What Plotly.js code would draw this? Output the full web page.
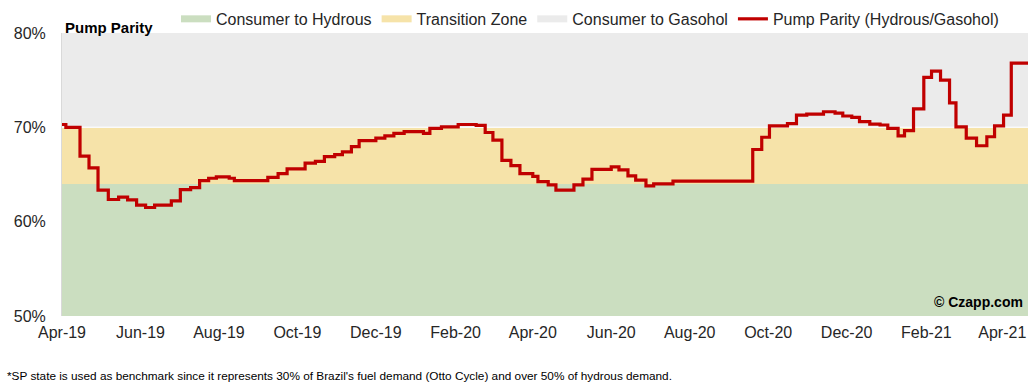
<!DOCTYPE html>
<html>
<head>
<meta charset="utf-8">
<script src="https://cdn.plot.ly/plotly-3.0.1.min.js"></script>
<style>html,body{margin:0;padding:0;background:#fff;}#chart{width:1036px;height:387px;}</style>
</head>
<body>
<div id="chart"></div>
<script>
// Pump parity (hydrous / gasohol), weekly observations
var dates = ['2019-04-01','2019-04-04','2019-04-15','2019-04-22','2019-04-29','2019-05-07','2019-05-15','2019-05-22','2019-05-29','2019-06-05','2019-06-12','2019-06-25','2019-07-02','2019-07-10','2019-07-17','2019-07-24','2019-07-30','2019-08-09','2019-08-13','2019-09-08','2019-09-16','2019-09-23','2019-10-07','2019-10-15','2019-10-22','2019-10-30','2019-11-05','2019-11-12','2019-11-18','2019-12-01','2019-12-08','2019-12-15','2019-12-23','2020-01-07','2020-01-12','2020-01-21','2020-02-03','2020-02-17','2020-02-24','2020-03-01','2020-03-08','2020-03-15','2020-03-22','2020-04-01','2020-04-05','2020-04-13','2020-04-19','2020-05-03','2020-05-10','2020-05-17','2020-06-01','2020-06-07','2020-06-14','2020-06-20','2020-06-28','2020-07-04','2020-07-19','2020-09-19','2020-09-26','2020-10-02','2020-10-16','2020-10-23','2020-10-31','2020-11-13','2020-11-22','2020-11-28','2020-12-05','2020-12-11','2020-12-19','2020-12-27','2021-01-02','2021-01-10','2021-01-15','2021-01-22','2021-01-30','2021-02-05','2021-02-12','2021-02-19','2021-02-24','2021-03-04','2021-03-12','2021-03-20','2021-03-26','2021-04-02','2021-04-08','2021-04-21'];
var parity = [70.3,70.0,66.95,65.7,63.35,62.35,62.6,62.3,61.75,61.5,61.75,62.2,63.4,63.6,64.35,64.6,64.75,64.6,64.35,64.7,65.1,65.6,66.2,66.4,66.9,67.1,67.4,67.95,68.6,68.85,69.1,69.35,69.55,69.35,69.9,70.05,70.3,70.2,69.45,68.65,66.5,65.95,65.1,64.8,64.25,63.9,63.35,63.9,64.5,65.55,65.8,65.5,64.85,64.4,63.8,64.0,64.3,67.65,68.95,70.15,70.4,71.3,71.4,71.65,71.5,71.2,71.05,70.6,70.35,70.25,69.9,69.1,69.65,71.95,75.3,75.95,75.0,72.6,70.05,68.85,68.05,69.0,70.15,71.3,76.8,76.8];

// Zone bands (percent)
var zoneNames = ['Consumer to Hydrous','Transition Zone','Consumer to Gasohol'];
var zoneLow   = [50, 64, 70];
var zoneHigh  = [64, 70, 80];
var zoneColors = ['#cbdec0','#f6e3a9','#ebebeb'];

var yTicks = [50, 60, 70, 80];
var yTickLabels = ['50%', '60%', '70%', '80%'];
var xStart = '2019-04-01', xEnd = '2021-04-21';

var traces = [];
for (var i = 0; i < zoneNames.length; i++) {
  traces.push({x:[null], y:[null], type:'scatter', mode:'lines', name:zoneNames[i],
    line:{color:zoneColors[i], width:7}, hoverinfo:'skip'});
}
traces.push({x:dates, y:parity, type:'scatter', mode:'lines', name:'Pump Parity (Hydrous/Gasohol)',
  line:{color:'#c00000', width:3.2, shape:'hv'}});

var shapes = [];
for (var j = 0; j < zoneNames.length; j++) {
  shapes.push({type:'rect', xref:'paper', yref:'y', x0:0, x1:1, y0:zoneLow[j], y1:zoneHigh[j],
    fillcolor:zoneColors[j], line:{width:0}, layer:'below'});
}
shapes.push({type:'line', xref:'paper', yref:'y', x0:0, x1:1, y0:70, y1:70, line:{color:'#fafafa', width:1.5}, layer:'below'});

var layout = {
  width:1036, height:387,
  margin:{l:62, r:8, t:33, b:71, autoexpand:false},
  paper_bgcolor:'#ffffff', plot_bgcolor:'#ffffff',
  font:{family:'Liberation Sans, Arial, sans-serif', size:16, color:'#262626'},
  showlegend:true,
  legend:{orientation:'h', x:0.118, xanchor:'left', yref:'container', y:0.995, yanchor:'top',
    font:{size:16, color:'#262626'}, bgcolor:'rgba(0,0,0,0)', itemwidth:30, traceorder:'normal'},
  xaxis:{type:'date', range:[xStart, xEnd], tick0:'2019-04-01', dtick:'M2', tickformat:'%b-%y',
    showgrid:false, zeroline:false, showline:false, ticks:'', ticklabelstandoff:5,
    tickfont:{size:16, color:'#262626'}},
  yaxis:{range:[50, 80], tickmode:'array', tickvals:yTicks, ticktext:yTickLabels, showgrid:false, zeroline:false,
    showline:true, linecolor:'#d9d9d9', linewidth:1, ticks:'', ticklabelstandoff:12,
    tickfont:{size:16, color:'#262626'}},
  shapes:shapes,
  annotations:[
    {text:'<b>Pump Parity</b>', xref:'paper', yref:'paper', x:0, y:1, xanchor:'left', yanchor:'bottom',
      xshift:1, yshift:-5, showarrow:false, font:{size:15, color:'#000000'}},
    {text:'<b>© Czapp.com</b>', xref:'paper', yref:'paper', x:1, y:0, xanchor:'right', yanchor:'bottom',
      xshift:-3, yshift:4, showarrow:false, font:{size:14, color:'#000000'}},
    {text:"*SP state is used as benchmark since it represents 30% of Brazil's fuel demand (Otto Cycle) and over 50% of hydrous demand.",
      xref:'paper', yref:'paper', x:-0.059, y:-0.212, xanchor:'left', yanchor:'middle',
      showarrow:false, font:{size:11.8, color:'#000000'}}
  ]
};

Plotly.newPlot('chart', traces, layout, {staticPlot:true, displayModeBar:false});
</script>
</body>
</html>
